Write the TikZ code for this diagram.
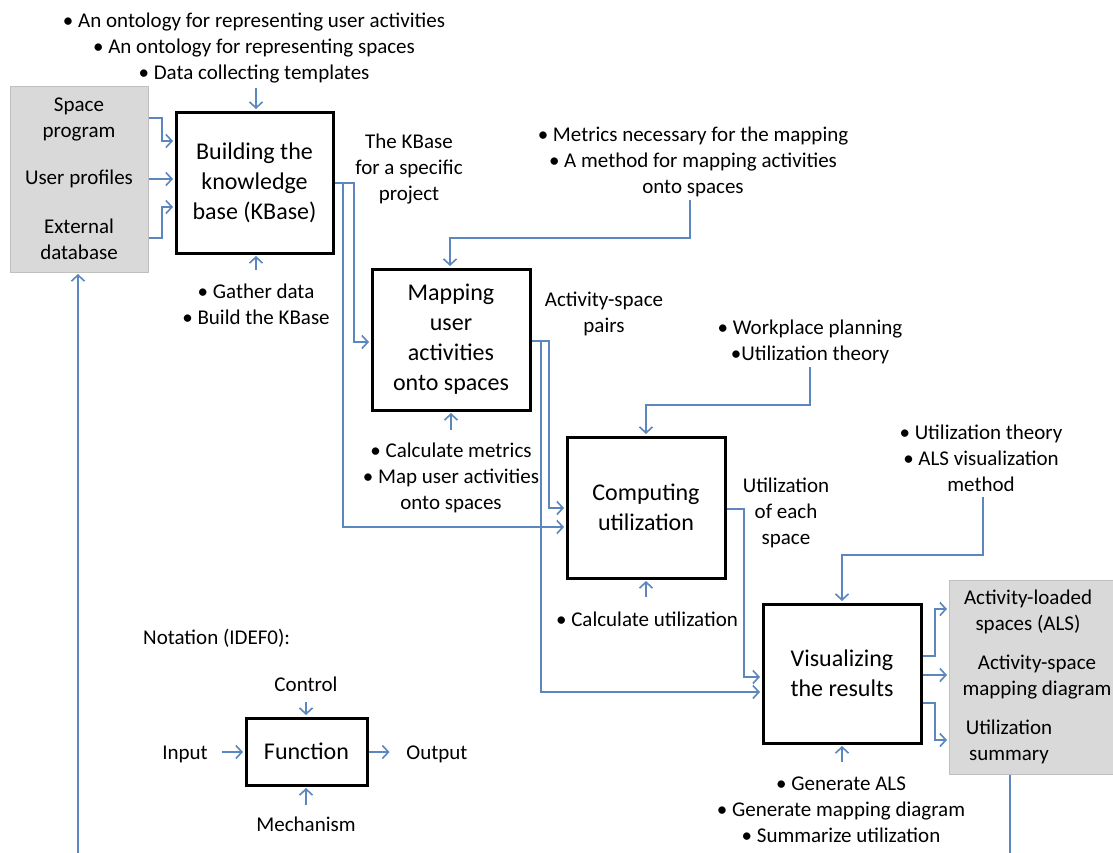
\documentclass[tikz,border=0pt]{standalone}
\usepackage{fontspec}
\setmainfont{Carlito}
\usetikzlibrary{arrows.meta}
\definecolor{flowblue}{HTML}{5B86BE}
\definecolor{panelgray}{HTML}{D9D9D9}
\definecolor{paneledge}{HTML}{BFBFBF}
\tikzset{
  fn/.style={draw=black, line width=3pt, fill=white, inner sep=0pt, align=center,
             font=\fontsize{24}{30}\selectfont},
  note/.style={inner sep=0pt, align=center, yshift=-2pt, font=\fontsize{21}{26}\selectfont},
  panel/.style={draw=paneledge, fill=panelgray, line width=1pt, inner sep=0pt},
  link/.style={draw=flowblue, line width=1.6pt},
  flow/.style={link, shorten >=1.5pt, -{Straight Barb[length=6pt,width=13pt]}},
}
\begin{document}
\begin{tikzpicture}[x=1pt, y=-1pt]
\clip (0,0) rectangle (1113,852);
\fill[white] (0,0) rectangle (1113,852);

% side panels: external inputs and final outputs
\node[panel, minimum width=138pt, minimum height=186pt] (inputs) at (79,179) {};
\node[panel, minimum width=181pt, minimum height=194pt] (outputs) at (1039.5,677) {};
\node[note] (inSpace) at (79,117.5) {Space\\program};
\node[note] (inUser) at (79,177) {User profiles};
\node[note] (inExt) at (79,237) {External\\database};
\node[note] (outALS) at (1028,610) {Activity-loaded\\spaces (ALS)};
\node[note] (outMap) at (1037,675) {Activity-space\\mapping diagram};
\node[note] (outSum) at (1009,740) {Utilization\\summary};

% function boxes
\node[fn, minimum width=157pt, minimum height=141pt] (kb) at (254.5,182.5) {Building the\\knowledge\\base (KBase)};
\node[fn, minimum width=158pt, minimum height=141pt] (map) at (451,339.5) {Mapping\\user\\activities\\onto spaces};
\node[fn, minimum width=158pt, minimum height=141pt] (util) at (646,507.5) {Computing\\utilization};
\node[fn, minimum width=158pt, minimum height=139pt] (vis) at (842,673.5) {Visualizing\\the results};

% controls
\node[note] (ctlKb) at (254,46) {\textbullet\ An ontology for representing user activities\\\textbullet\ An ontology for representing spaces\\\textbullet\ Data collecting templates};
\node[note] (ctlMap) at (693,160) {\textbullet\ Metrics necessary for the mapping\\\textbullet\ A method for mapping activities\\onto spaces};
\node[note] (ctlUtil) at (810,340) {\textbullet\ Workplace planning\\\textbullet Utilization theory};
\node[note] (ctlVis) at (981,456) {\textbullet\ Utilization theory\\\textbullet\ ALS visualization\\method};

% mechanisms
\node[note] (mechKb) at (256,302) {\textbullet\ Gather data\\\textbullet\ Build the KBase};
\node[note] (mechMap) at (451,476) {\textbullet\ Calculate metrics\\\textbullet\ Map user activities\\onto spaces};
\node[note] (mechUtil) at (647,617) {\textbullet\ Calculate utilization};
\node[note] (mechVis) at (841,808) {\textbullet\ Generate ALS\\\textbullet\ Generate mapping diagram\\\textbullet\ Summarize utilization};

% output labels
\node[note] (lblKb) at (409,167) {The KBase\\for a specific\\project};
\node[note] (lblMap) at (604,312) {Activity-space\\pairs};
\node[note] (lblUtil) at (786,511) {Utilization\\of each\\space};

% inputs into the knowledge base
\draw[flow] (inputs.east |- 0,118) -- (162,118) |- (kb.west |- 0,141);
\draw[flow] (inputs.east |- 0,179) -- (kb.west |- 0,179);
\draw[flow] (inputs.east |- 0,238) -- (162,238) |- (kb.west |- 0,207);

% controls into boxes
\draw[flow] (256,88) -- (kb.north -| 256,0);
\coordinate (ctlMapEnd) at (690,200);
\draw[flow] (ctlMapEnd) -- (690,238) -| (map.north -| 450,0);
\coordinate (ctlUtilEnd) at (810,367);
\draw[flow] (ctlUtilEnd) -- (810,405) -| (util.north);
\coordinate (ctlVisEnd) at (983,497);
\draw[flow] (ctlVisEnd) -- (983,555) -| (vis.north);

% mechanisms into boxes
\draw[flow] (256,270) -- (kb.south -| 256,0);
\draw[flow] (451,430) -- (map.south);
\draw[flow] (646,597) -- (util.south -| 646,0);
\draw[flow] (842,762) -- (vis.south);

% outputs between boxes
\draw[flow] (kb.east |- 0,183) -- (354,183) |- (map.west |- 0,342);
\draw[flow] (kb.east |- 0,183) -- (343,183) |- (util.west |- 0,527);
\draw[flow] (map.east |- 0,341) -- (549,341) |- (util.west |- 0,508);
\draw[flow] (map.east |- 0,341) -- (541,341) |- (vis.west |- 0,692);
\draw[flow] (util.east |- 0,509) -- (744,509) |- (vis.west |- 0,677);

% final outputs
\draw[flow] (vis.east |- 0,656) -- (935,656) |- (outputs.west |- 0,609);
\draw[flow] (vis.east |- 0,675) -- (outputs.west |- 0,675);
\draw[flow] (vis.east |- 0,703) -- (935,703) |- (outputs.west |- 0,740);

% feedback loop
\draw[link] (outputs.south -| 1010,0) -- (1010,860);
\draw[flow] (78,860) -- (inputs.south -| 78,0);

% notation legend
\node[note, anchor=west] (notation) at (143,636) {Notation (IDEF0):};
\node[fn, minimum width=121pt, minimum height=67pt] (func) at (306.5,751.5) {Function};
\node[note] (lgCtl) at (306,682) {Control};
\node[note] (lgIn) at (185,752) {Input};
\node[note] (lgOut) at (437,752) {Output};
\node[note] (lgMech) at (306,822) {Mechanism};
\coordinate (lgOutEnd) at (391,752);
\draw[flow] (306,702) -- (func.north -| 306,0);
\draw[flow] (222,752) -- (func.west |- 0,752);
\draw[flow] (func.east |- 0,752) -- (lgOutEnd);
\draw[flow] (306,805) -- (func.south -| 306,0);
\end{tikzpicture}
\end{document}
